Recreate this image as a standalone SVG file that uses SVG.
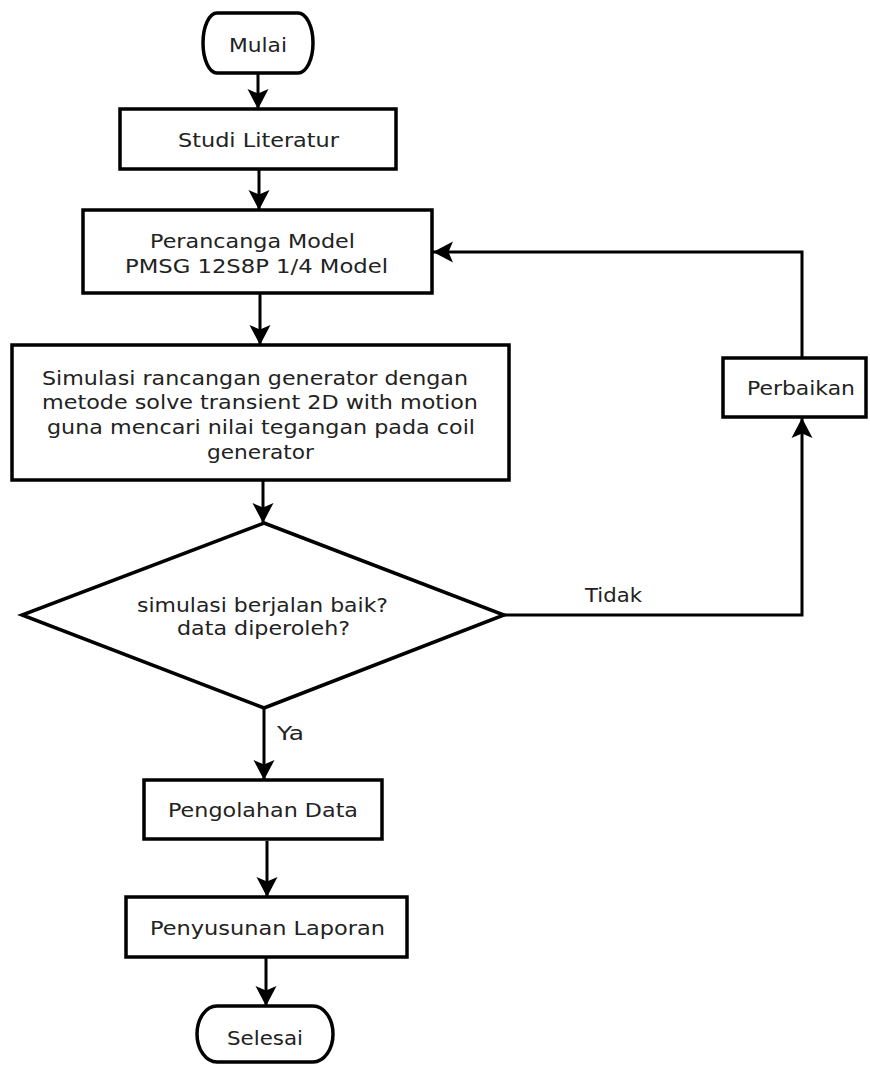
<svg xmlns="http://www.w3.org/2000/svg" width="870" height="1066" viewBox="0 0 870 1066">
<style>
.box{fill:#fff;stroke:#000;stroke-width:3.5}
.ln{fill:none;stroke:#000;stroke-width:3}
.t{font-family:"DejaVu Sans",Verdana,sans-serif;font-size:19.5px;fill:#222}
.c{text-anchor:middle}
</style>
<defs>
<marker id="ah" markerUnits="userSpaceOnUse" markerWidth="22" markerHeight="22" viewBox="0 0 22 22" refX="20" refY="11" orient="auto">
<path d="M20,11 L0,0.5 L4.5,11 L0,21.5 Z" fill="#000"/>
</marker>
</defs>
<rect width="870" height="1066" fill="#fff"/>
<g id="connectors">
<line class="ln" x1="258" y1="73" x2="258" y2="109" marker-end="url(#ah)"/>
<line class="ln" x1="259" y1="169" x2="259" y2="210" marker-end="url(#ah)"/>
<line class="ln" x1="260" y1="293" x2="260" y2="345" marker-end="url(#ah)"/>
<line class="ln" x1="263" y1="480" x2="263" y2="523" marker-end="url(#ah)"/>
<line class="ln" x1="264" y1="708" x2="264" y2="780" marker-end="url(#ah)"/>
<line class="ln" x1="267" y1="841" x2="267" y2="897" marker-end="url(#ah)"/>
<line class="ln" x1="266" y1="957" x2="266" y2="1006" marker-end="url(#ah)"/>
<polyline class="ln" points="504,615 802,615 802,418" marker-end="url(#ah)"/>
<polyline class="ln" points="802,358 802,252 433,252" marker-end="url(#ah)"/>
<text class="t" x="585" y="602" textLength="57" lengthAdjust="spacingAndGlyphs">Tidak</text>
<text class="t" x="277" y="740" textLength="27" lengthAdjust="spacingAndGlyphs">Ya</text>
</g>
<g id="mulai">
<path class="box" d="M217,13 H298 A15,30 0 0 1 298,73 H217 A14,30 0 0 1 217,13 Z"/>
<text class="t c" x="258" y="52" textLength="58" lengthAdjust="spacingAndGlyphs">Mulai</text>
</g>
<g id="studi">
<rect class="box" x="120" y="109" width="276" height="60"/>
<text class="t c" x="258.5" y="147" textLength="161" lengthAdjust="spacingAndGlyphs">Studi Literatur</text>
</g>
<g id="perancangan">
<rect class="box" x="83" y="210" width="349" height="83"/>
<text class="t c" x="252.5" y="248" textLength="205" lengthAdjust="spacingAndGlyphs">Perancanga Model</text>
<text class="t c" x="256.5" y="273" textLength="263" lengthAdjust="spacingAndGlyphs">PMSG 12S8P 1/4 Model</text>
</g>
<g id="simulasi">
<rect class="box" x="12" y="345" width="497" height="135"/>
<text class="t c" x="255" y="385" textLength="426" lengthAdjust="spacingAndGlyphs">Simulasi rancangan generator dengan</text>
<text class="t c" x="260" y="409" textLength="436" lengthAdjust="spacingAndGlyphs">metode solve transient 2D with motion</text>
<text class="t c" x="261" y="434" textLength="428" lengthAdjust="spacingAndGlyphs">guna mencari nilai tegangan pada coil</text>
<text class="t c" x="260.5" y="459" textLength="107" lengthAdjust="spacingAndGlyphs">generator</text>
</g>
<g id="keputusan">
<polygon class="box" points="264,523 504,615 264,708 22,615"/>
<text class="t c" x="262.5" y="612" textLength="251" lengthAdjust="spacingAndGlyphs">simulasi berjalan baik?</text>
<text class="t c" x="263.5" y="635" textLength="173" lengthAdjust="spacingAndGlyphs">data diperoleh?</text>
</g>
<g id="perbaikan">
<rect class="box" x="723" y="358" width="143" height="59"/>
<text class="t c" x="801" y="395" textLength="108" lengthAdjust="spacingAndGlyphs">Perbaikan</text>
</g>
<g id="pengolahan">
<rect class="box" x="144" y="780" width="238" height="59"/>
<text class="t c" x="263" y="817" textLength="190" lengthAdjust="spacingAndGlyphs">Pengolahan Data</text>
</g>
<g id="penyusunan">
<rect class="box" x="126" y="897" width="281" height="60"/>
<text class="t c" x="267.5" y="935" textLength="235" lengthAdjust="spacingAndGlyphs">Penyusunan Laporan</text>
</g>
<g id="selesai">
<path class="box" d="M217,1006 H313 A20,28 0 0 1 313,1062 H217 A20,28 0 0 1 217,1006 Z"/>
<text class="t c" x="265" y="1045" textLength="76" lengthAdjust="spacingAndGlyphs">Selesai</text>
</g>
</svg>
